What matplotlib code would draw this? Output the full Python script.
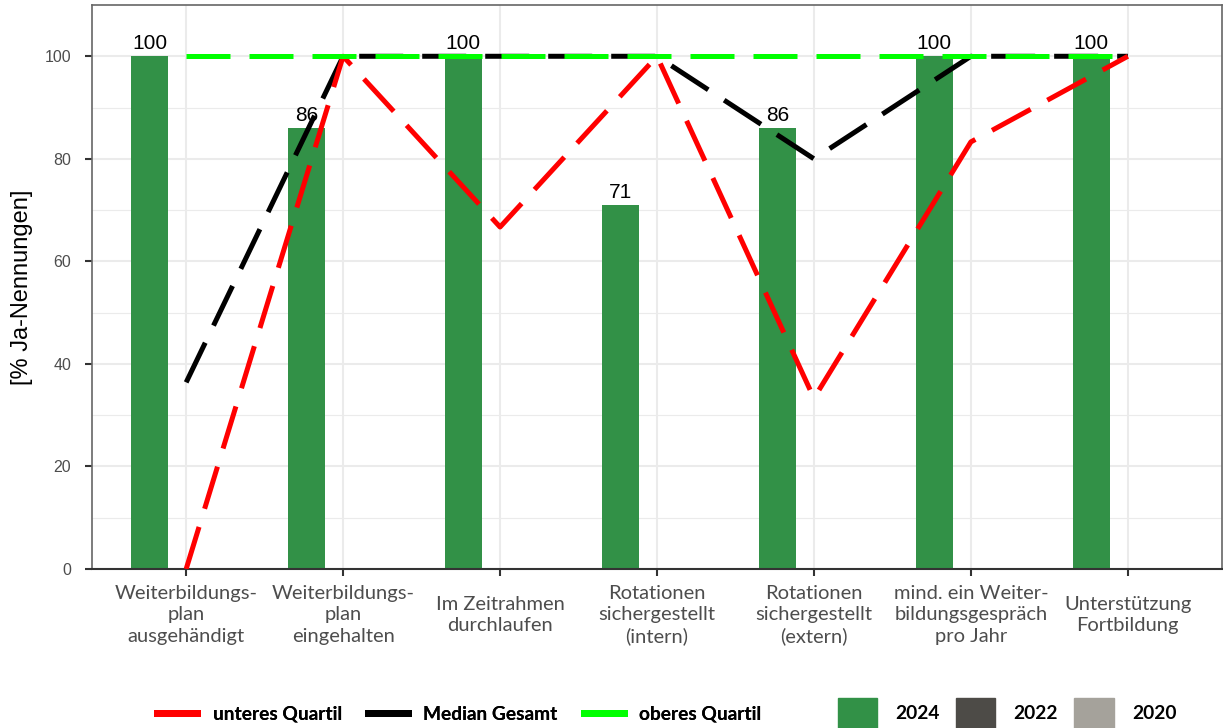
import matplotlib.pyplot as plt
import numpy as np
from matplotlib.lines import Line2D
from matplotlib.patches import Patch

categories = ["Weiterbildungs-\nplan\nausgehändigt",
              "Weiterbildungs-\nplan\neingehalten",
              "Im Zeitrahmen\ndurchlaufen",
              "Rotationen\nsichergestellt\n(intern)",
              "Rotationen\nsichergestellt\n(extern)",
              "mind. ein Weiter-\nbildungsgespräch\npro Jahr",
              "Unterstützung\nFortbildung"]
bars_2024 = [100, 86, 100, 71, 86, 100, 100]
unteres = [0, 100, 66.7, 100, 33.3, 83.3, 100]
median = [36.4, 100, 100, 100, 80, 100, 100]
oberes = [100, 100, 100, 100, 100, 100, 100]
years = ["2024", "2022", "2020"]
year_colors = ["#329147", "#4d4b47", "#a5a29b"]

fig = plt.figure(figsize=(12.23, 7.28), dpi=100)
ax = fig.add_axes([92/1223, 1-569/728, 1130/1223, 564/728])

x = np.arange(1, len(categories)+1)
bw = 0.7/3
ax.bar(x - bw, bars_2024, width=bw, color=year_colors[0], zorder=2)
for xi, v in zip(x, bars_2024):
    ax.annotate(f"{v}", (xi - bw, v), xytext=(0, 2), textcoords="offset points",
                ha="center", va="bottom", fontsize=15, family="Liberation Sans", zorder=3)

dash = (8.8, 3.8)
lw = 3.6
ax.plot(x, median, color="black", lw=lw, dashes=dash, zorder=4)
ax.plot(x, unteres, color="red", lw=lw, dashes=dash, zorder=5)
ax.plot(x, oberes, color="#00ff00", lw=lw, dashes=dash, zorder=6)

ax.set_xlim(0.4, 7.6)
ax.set_ylim(0, 110)
ax.set_yticks([0, 20, 40, 60, 80, 100])
ax.set_yticks([10, 30, 50, 70, 90], minor=True)
ax.set_xticks(x)
ax.set_xticklabels(categories, family="Lato", fontsize=14.5, color="#4d4d4d", linespacing=1.3,
                   va="center")
ax.tick_params(axis="x", which="both", length=5, width=1.5, color="#333333", pad=28)
ax.tick_params(axis="y", which="major", length=5, width=1.5, color="#333333", labelsize=11.5,
               labelcolor="#4d4d4d", pad=10)
ax.tick_params(axis="y", which="minor", length=0)
for lab in ax.get_yticklabels():
    lab.set_family("Liberation Sans")
ax.grid(True, which="major", color="#ebebeb", lw=1.5, zorder=0)
ax.grid(True, which="minor", axis="y", color="#ebebeb", lw=0.8, zorder=0)
ax.set_axisbelow(True)
for s in ["top", "right", "left"]:
    ax.spines[s].set_color("#666666")
    ax.spines[s].set_linewidth(1.2)
ax.spines["bottom"].set_color("#333333")
ax.spines["bottom"].set_linewidth(1.5)
ax.set_ylabel("[% Ja-Nennungen]", fontsize=17, family="Liberation Sans", labelpad=8)

fp = {"family": "Lato", "weight": "bold", "size": 13.8}
line_handles = [Line2D([], [], color=c, lw=5) for c in ["red", "black", "#00ff00"]]
leg1 = fig.legend(line_handles, ["unteres Quartil", "Median Gesamt", "oberes Quartil"],
                  loc="center left", bbox_to_anchor=(157/1223, 1-714/728), ncol=3, frameon=False,
                  borderpad=0, borderaxespad=0, handlelength=2.1, columnspacing=1.35,
                  handletextpad=0.8, prop=fp)
fig.add_artist(leg1)
bar_handles = [Patch(color=c) for c in year_colors]
fig.legend(bar_handles, years, loc="center left", bbox_to_anchor=(838/1223, 1-713/728), ncol=3,
           frameon=False, borderpad=0, borderaxespad=0, handlelength=2.05, handleheight=2.05,
           columnspacing=0.85, handletextpad=0.95, prop=fp)

fig.savefig("out.png", dpi=100)
